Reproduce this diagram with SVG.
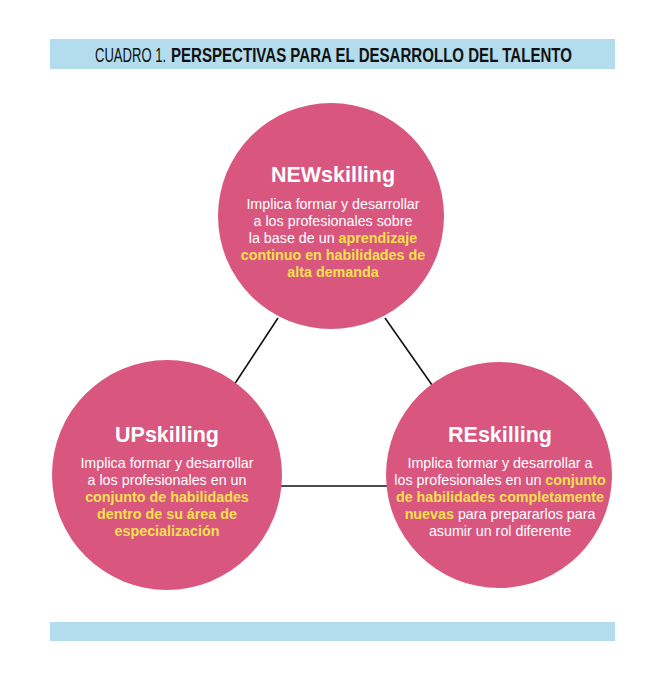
<svg xmlns="http://www.w3.org/2000/svg" width="665" height="680" viewBox="0 0 665 680">
<style>
.bar{fill:#b3dcec}
.node circle{fill:#d9577f}
.title{font-family:"Liberation Sans",Arial,sans-serif;font-weight:bold;font-size:21.5px;fill:#ffffff;text-anchor:middle}
.body{font-family:"Liberation Sans",Arial,sans-serif;font-size:14.3px;fill:#ffffff;text-anchor:middle}
.hl{fill:#f4e04d;font-weight:bold}
.hdr{font-family:"Liberation Sans",Arial,sans-serif;font-size:19.5px;fill:#111111}
#connectors line{stroke:#111111;stroke-width:1.6}
</style>
<rect width="665" height="680" fill="#ffffff"/>
<g id="header">
<rect class="bar" x="50" y="39" width="565" height="30"/>
<text class="hdr" transform="translate(95,62) scale(0.67,1)" x="0" y="0">CUADRO 1.</text>
<text class="hdr" transform="translate(171,62) scale(0.773,1)" x="0" y="0" font-weight="bold">PERSPECTIVAS PARA EL DESARROLLO DEL TALENTO</text>
</g>
<g id="connectors">
<line x1="278" y1="318" x2="234" y2="385"/>
<line x1="385" y1="318" x2="432" y2="385"/>
<line x1="280" y1="486" x2="388" y2="486"/>
</g>
<g id="newskilling" class="node">
<circle cx="331" cy="216" r="113"/>
<text class="title" x="333" y="182">NEWskilling</text>
<text class="body" x="333" y="209">Implica formar y desarrollar</text>
<text class="body" x="333" y="226">a los profesionales sobre</text>
<text class="body" x="333" y="243">la base de un <tspan class="hl">aprendizaje</tspan></text>
<text class="body hl" x="333" y="260">continuo en habilidades de</text>
<text class="body hl" x="333" y="277">alta demanda</text>
</g>
<g id="upskilling" class="node">
<circle cx="167" cy="475" r="115"/>
<text class="title" x="167" y="442">UPskilling</text>
<text class="body" x="167" y="468">Implica formar y desarrollar</text>
<text class="body" x="167" y="485">a los profesionales en un</text>
<text class="body hl" x="167" y="502">conjunto de habilidades</text>
<text class="body hl" x="167" y="519">dentro de su área de</text>
<text class="body hl" x="167" y="536">especialización</text>
</g>
<g id="reskilling" class="node">
<circle cx="499" cy="475" r="113"/>
<text class="title" x="500" y="442">REskilling</text>
<text class="body" x="500" y="468">Implica formar y desarrollar a</text>
<text class="body" x="500" y="485">los profesionales en un <tspan class="hl">conjunto</tspan></text>
<text class="body hl" x="500" y="502">de habilidades completamente</text>
<text class="body" x="500" y="519"><tspan class="hl">nuevas</tspan> para prepararlos para</text>
<text class="body" x="500" y="536">asumir un rol diferente</text>
</g>
<g id="footer">
<rect class="bar" x="50" y="622" width="565" height="19"/>
</g>
</svg>
